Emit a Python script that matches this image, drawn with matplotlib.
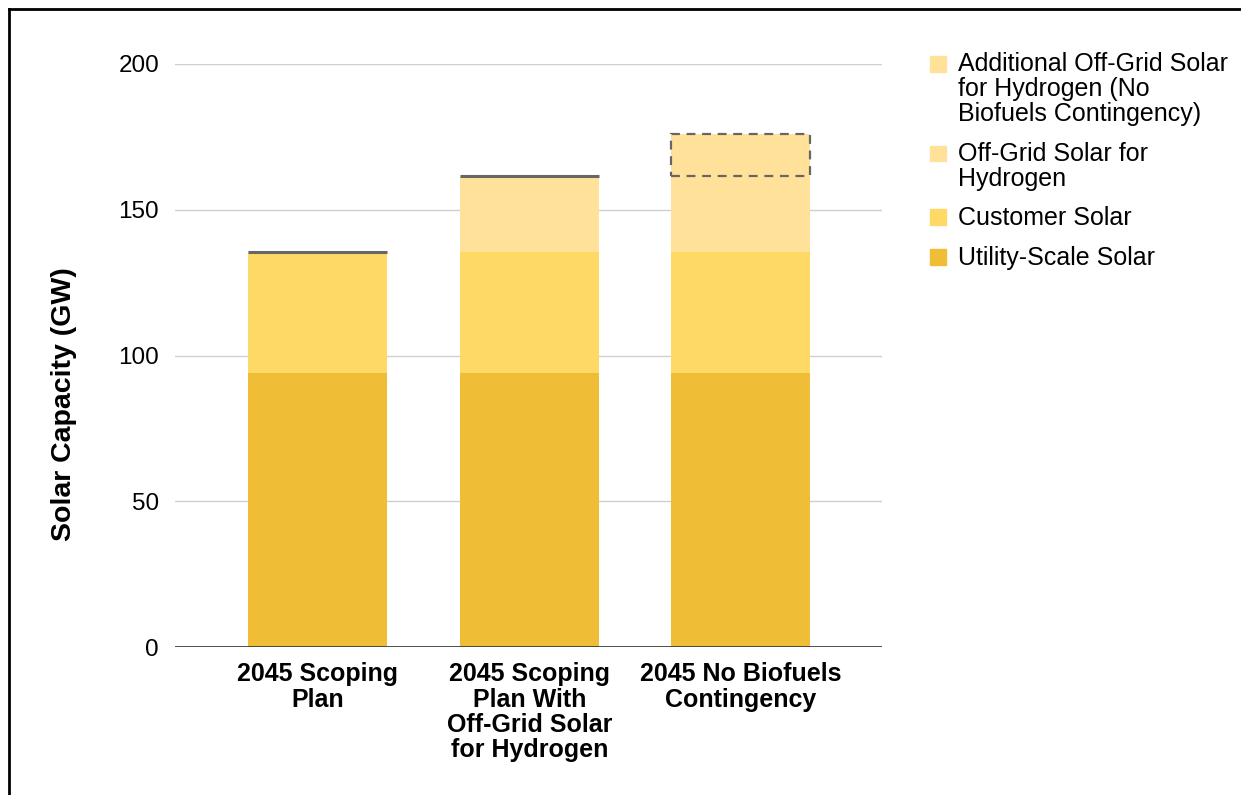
import matplotlib.pyplot as plt
from matplotlib.lines import Line2D
from matplotlib.patches import Rectangle

plt.rcParams['font.family'] = ['Liberation Sans', 'DejaVu Sans']

# Solar capacity in GW by scenario
scenarios = ['2045 Scoping\nPlan',
             '2045 Scoping\nPlan With\nOff-Grid Solar\nfor Hydrogen',
             '2045 No Biofuels\nContingency']
utility_scale = [94, 94, 94]
customer = [41.5, 41.5, 41.5]
off_grid_h2 = [0, 26, 26]
additional_h2 = [0, 0, 14.5]

series_names = ['Utility-Scale Solar', 'Customer Solar',
                'Off-Grid Solar for\nHydrogen',
                'Additional Off-Grid Solar\nfor Hydrogen (No\nBiofuels Contingency)']
colors = ['#F0BE36', '#FFD966', '#FFE199', '#FFE199']

fig = plt.figure(figsize=(12.41, 7.95), dpi=100)
ax = fig.add_axes([0.141, 0.186, 0.570, 0.7335])

x = range(len(scenarios))
width = 0.657
bottom = [0, 0, 0]
for vals, col in zip([utility_scale, customer, off_grid_h2], colors[:3]):
    ax.bar(x, vals, width, bottom=bottom, color=col, zorder=2)
    bottom = [b + v for b, v in zip(bottom, vals)]

# additional series has a gray outline: dashed where it has height,
# collapsing to a solid line where it is zero
bars = ax.bar(x, additional_h2, width, bottom=bottom, color=colors[3],
              edgecolor='#666666', linewidth=1.6, zorder=3)
for patch, v in zip(bars.patches, additional_h2):
    if v > 0:
        patch.set_linestyle((0, (4, 3)))
    else:
        patch.set_linewidth(2.2)

ax.set_ylim(0, 200)
ax.set_xlim(-0.674, 2.669)
ax.set_yticks([0, 50, 100, 150, 200])
ax.grid(axis='y', color='#d0d0d0', linewidth=1, zorder=0)
ax.axhline(0, color='#333333', linewidth=1.2, zorder=4)
for s in ax.spines.values():
    s.set_visible(False)
ax.tick_params(axis='y', length=0, labelsize=17.5, pad=11.5)
ax.tick_params(axis='x', length=0, pad=11)
ax.set_xticks(list(x))
ax.set_xticklabels(scenarios, fontsize=18, fontweight='bold', linespacing=1.06,
                   va='top')
ax.set_ylabel('Solar Capacity (GW)', fontsize=20.5, fontweight='bold')
ax.yaxis.set_label_coords(-0.138, 0.417)

# legend, top-aligned swatches beside multi-line labels
leg_x, sw = 0.7495, 0.0125
leg_tops = [0.931, 0.818, 0.738, 0.688]
for name, col, top in zip(series_names[::-1], colors[::-1], leg_tops):
    fig.add_artist(Rectangle((leg_x, top - 0.021), sw, 0.0195, color=col,
                             transform=fig.transFigure))
    fig.text(0.772, top + 0.003, name, fontsize=18, va='top', ha='left',
             linespacing=1.05)

# frame lines along top and left of the figure
fig.add_artist(Line2D([0.007, 1.0], [0.989, 0.989], color='black', linewidth=2,
                      transform=fig.transFigure))
fig.add_artist(Line2D([0.007, 0.007], [0.0, 0.989], color='black', linewidth=2,
                      transform=fig.transFigure))

fig.savefig('out.png', dpi=100, facecolor='white')
